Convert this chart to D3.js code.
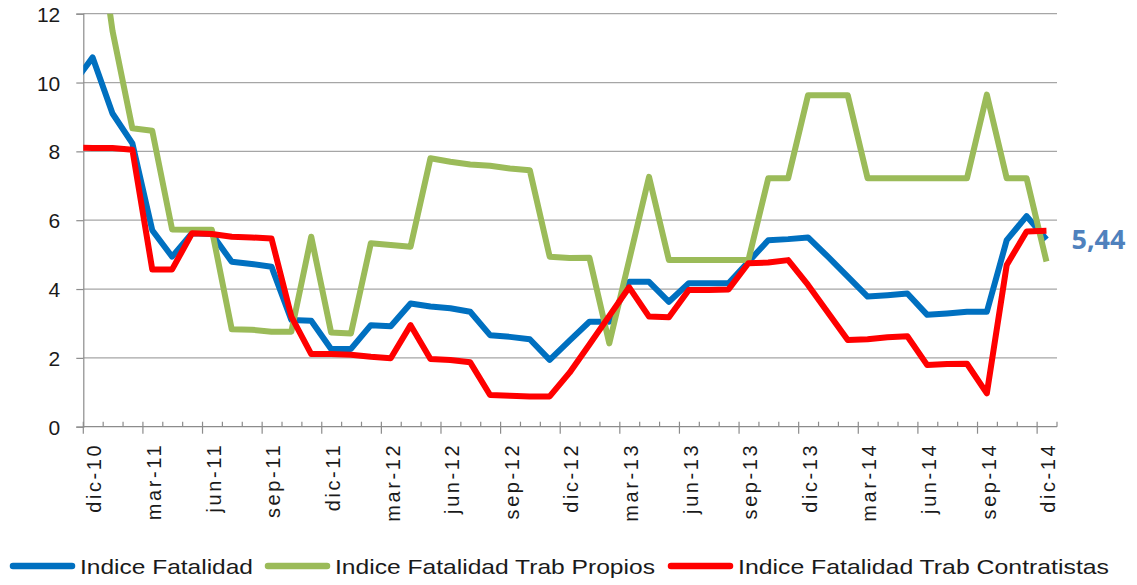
<!DOCTYPE html>
<html>
<head>
<meta charset="utf-8">
<script src="https://cdn.jsdelivr.net/npm/d3@7"></script>
<style>
  body { margin: 0; background: #fff; }
  svg { display: block; font-family: "Liberation Sans", Arial, sans-serif; }
</style>
</head>
<body>
<div id="chart"></div>
<script>
// months from nov-10 (partly hidden left of the axis) to dic-14
var months = ["nov-10","dic-10","ene-11","feb-11","mar-11","abr-11","may-11","jun-11","jul-11","ago-11","sep-11","oct-11","nov-11",
  "dic-11","ene-12","feb-12","mar-12","abr-12","may-12","jun-12","jul-12","ago-12","sep-12","oct-12","nov-12",
  "dic-12","ene-13","feb-13","mar-13","abr-13","may-13","jun-13","jul-13","ago-13","sep-13","oct-13","nov-13",
  "dic-13","ene-14","feb-14","mar-14","abr-14","may-14","jun-14","jul-14","ago-14","sep-14","oct-14","nov-14","dic-14"];

var fatalidad = [9.95, 10.73, 9.10, 8.23, 5.71, 4.94, 5.62, 5.60, 4.79, 4.73, 4.65, 3.10, 3.08,
  2.26, 2.26, 2.95, 2.92, 3.58, 3.49, 3.44, 3.34, 2.66, 2.61, 2.54, 1.94,
  2.50, 3.05, 3.05, 4.21, 4.21, 3.63, 4.17, 4.17, 4.17, 4.79, 5.42, 5.45,
  5.50, 4.94, 4.36, 3.78, 3.82, 3.87, 3.25, 3.29, 3.34, 3.34, 5.42, 6.12, 5.44];

var propios = [15.0, 15.6, 11.5, 8.67, 8.60, 5.73, 5.72, 5.72, 2.83, 2.82, 2.76, 2.76, 5.52,
  2.74, 2.71, 5.33, 5.28, 5.23, 7.80, 7.70, 7.62, 7.58, 7.50, 7.45, 4.94,
  4.90, 4.91, 2.42, 4.84, 7.26, 4.84, 4.84, 4.84, 4.84, 4.84, 7.22, 7.22,
  9.63, 9.63, 9.63, 7.22, 7.22, 7.22, 7.22, 7.22, 7.22, 9.65, 7.22, 7.22, 4.80];

var contratistas = [8.11, 8.10, 8.10, 8.05, 4.57, 4.57, 5.62, 5.60, 5.52, 5.50, 5.47, 3.20, 2.11,
  2.11, 2.09, 2.03, 1.99, 2.95, 1.97, 1.94, 1.87, 0.92, 0.90, 0.88, 0.88,
  1.57, 2.39, 3.22, 4.05, 3.20, 3.18, 3.97, 3.97, 3.99, 4.75, 4.77, 4.84,
  4.12, 3.32, 2.52, 2.54, 2.60, 2.63, 1.79, 1.82, 1.83, 0.97, 4.70, 5.67, 5.69];

var tickLabels = ["dic-10","mar-11","jun-11","sep-11","dic-11","mar-12","jun-12","sep-12","dic-12",
  "mar-13","jun-13","sep-13","dic-13","mar-14","jun-14","sep-14","dic-14"];
var yTicks = [0, 2, 4, 6, 8, 10, 12];

var series = [
  {name: "Indice Fatalidad", values: fatalidad, color: "#0070C0"},
  {name: "Indice Fatalidad Trab Propios", values: propios, color: "#9BBB59"},
  {name: "Indice Fatalidad Trab Contratistas", values: contratistas, color: "#FF0000"}
];

var width = 1137, height = 585;
var plot = {left: 83.3, right: 1057, top: 13.7, bottom: 426.7};

var svg = d3.select("#chart").append("svg")
  .attr("width", width)
  .attr("height", height);

// x: month index, 0 = start of dic-10, 49 = end of dic-14
var x = d3.scaleLinear().domain([0, 49]).range([plot.left, plot.right]);
var y = d3.scaleLinear().domain([0, 12]).range([plot.bottom, plot.top]);

// data points sit near the middle of each month
function xPos(i) { return x(i - 1 + 0.47); }

svg.append("defs").append("clipPath").attr("id", "clip")
  .append("rect")
  .attr("x", plot.left).attr("y", plot.top)
  .attr("width", plot.right - plot.left).attr("height", plot.bottom - plot.top);

// gridlines
svg.append("g").selectAll("line")
  .data(yTicks.filter(function(d) { return d > 0; }))
  .enter().append("line")
  .attr("x1", plot.left).attr("x2", plot.right)
  .attr("y1", function(d) { return y(d); })
  .attr("y2", function(d) { return y(d); })
  .attr("stroke", "#A6A6A6")
  .attr("stroke-width", 1.2);

// y axis
var yAxis = svg.append("g")
  .attr("transform", "translate(" + plot.left + ",0)")
  .call(d3.axisLeft(y).tickValues(yTicks).tickSize(7).tickPadding(16).tickFormat(d3.format("d")));
yAxis.select(".domain").attr("stroke", "#8C8C8C").attr("stroke-width", 1.2);
yAxis.selectAll(".tick line").attr("stroke", "#8C8C8C").attr("stroke-width", 1.2);
yAxis.selectAll("text")
  .attr("fill", "#1a1a1a")
  .style("font-size", "21px")
  .attr("dy", "0.36em");

// x axis: minor ticks for every month, major ticks every quarter
var xAxisG = svg.append("g").attr("transform", "translate(0," + plot.bottom + ")");
xAxisG.append("line")
  .attr("x1", plot.left).attr("x2", plot.right)
  .attr("stroke", "#8C8C8C").attr("stroke-width", 1.2);
xAxisG.selectAll(".minor")
  .data(d3.range(0, 50))
  .enter().append("line")
  .attr("class", "minor")
  .attr("x1", function(d) { return x(d); })
  .attr("x2", function(d) { return x(d); })
  .attr("y1", -5)
  .attr("y2", function(d) { return d % 3 === 0 && d < 49 ? 7 : 0; })
  .attr("stroke", "#8C8C8C").attr("stroke-width", 1.2);
xAxisG.selectAll(".xlabel")
  .data(tickLabels)
  .enter().append("text")
  .attr("class", "xlabel")
  .attr("transform", function(d, i) { return "translate(" + (x(i * 3 + 0.5) + 1) + ",16) rotate(-90)"; })
  .attr("text-anchor", "end")
  .attr("dy", "0.36em")
  .attr("fill", "#1a1a1a")
  .style("font-size", "20px")
  .style("letter-spacing", "2.6px")
  .text(function(d) { return d; });

// lines
var line = d3.line()
  .x(function(d, i) { return xPos(i); })
  .y(function(d) { return y(d); });

var linesG = svg.append("g").attr("clip-path", "url(#clip)");
series.forEach(function(s) {
  linesG.append("path")
    .datum(s.values)
    .attr("fill", "none")
    .attr("stroke", s.color)
    .attr("stroke-width", 6)
    .attr("stroke-linejoin", "round")
    .attr("d", line);
});

// last value label
var last = fatalidad.length - 1;
svg.append("text")
  .attr("x", xPos(last) + 25)
  .attr("y", y(fatalidad[last]))
  .attr("dy", "0.36em")
  .attr("fill", "#4F81BD")
  .style("font-family", "'Open Sans', sans-serif")
  .style("font-weight", "bold")
  .style("font-size", "27px")
  .text(d3.format(".2f")(fatalidad[last]).replace(".", ","));

// legend
var legendItems = [
  {x: 10, textWidth: 173},
  {x: 265, textWidth: 320},
  {x: 668, textWidth: 371}
];
var legend = svg.append("g").attr("transform", "translate(0,566)");
series.forEach(function(s, i) {
  var g = legend.append("g").attr("transform", "translate(" + legendItems[i].x + ",0)");
  g.append("line")
    .attr("x1", 3).attr("x2", 62)
    .attr("stroke", s.color)
    .attr("stroke-width", 6.5)
    .attr("stroke-linecap", "round");
  g.append("text")
    .attr("x", 70)
    .attr("dy", "0.36em")
    .attr("fill", "#1a1a1a")
    .style("font-size", "21px")
    .attr("textLength", legendItems[i].textWidth)
    .attr("lengthAdjust", "spacingAndGlyphs")
    .text(s.name);
});
</script>
</body>
</html>
